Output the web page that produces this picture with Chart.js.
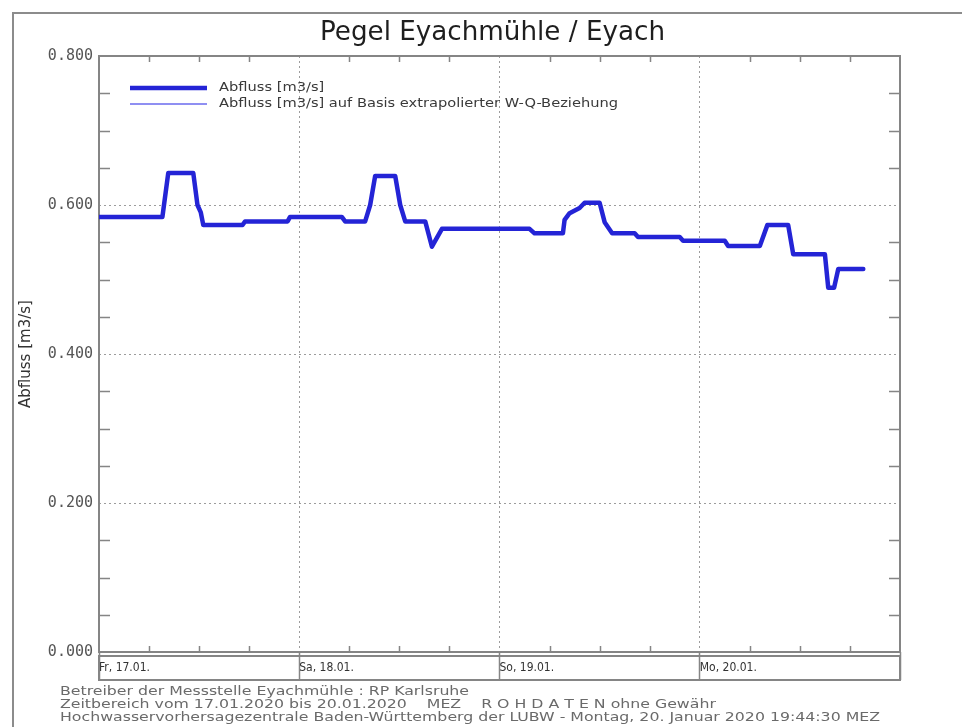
<!DOCTYPE html>
<html>
<head>
<meta charset="utf-8">
<title>Pegel Eyachmühle / Eyach</title>
<script src="https://cdn.jsdelivr.net/npm/chart.js@4.4.1/dist/chart.umd.min.js"></script>
<style>
  html, body { margin: 0; padding: 0; background: #fff; }
  canvas { display: block; }
</style>
</head>
<body>
<canvas id="pegel-chart" width="962" height="727"></canvas>
<script>
// Stunden ab Fr, 17.01.2020 00:00 MEZ
const hours = [0, 7.6, 8.3, 11.3, 11.8, 12.2, 12.5, 17.2, 17.5, 22.6, 22.9, 29.1, 29.5, 31.9,
  32.5, 33.1, 35.5, 36.1, 36.7, 39.1, 39.9, 41.1, 51.6, 52.2, 55.6, 55.8, 56.4, 57.6, 58.2,
  60.0, 60.6, 61.5, 64.2, 64.6, 69.6, 70.0, 75.0, 75.4, 79.2, 80.1, 82.6, 83.2, 87.0, 87.4,
  88.1, 88.6, 91.6];
// Abfluss [m3/s]
const flow = [0.584, 0.584, 0.643, 0.643, 0.600, 0.590, 0.573, 0.573, 0.578, 0.578, 0.584, 0.584,
  0.578, 0.578, 0.600, 0.639, 0.639, 0.600, 0.578, 0.578, 0.544, 0.568, 0.568, 0.562, 0.562,
  0.580, 0.589, 0.596, 0.603, 0.603, 0.577, 0.562, 0.562, 0.557, 0.557, 0.552, 0.552, 0.545,
  0.545, 0.573, 0.573, 0.534, 0.534, 0.489, 0.489, 0.514, 0.514];
const flowExtrapolated = [];

const dayLabels = ["Fr, 17.01.", "Sa, 18.01.", "So, 19.01.", "Mo, 20.01."];
const yTicks = [0, 0.2, 0.4, 0.6, 0.8];
const legendLabels = ["Abfluss [m3/s]", "Abfluss [m3/s] auf Basis extrapolierter W-Q-Beziehung"];
const footerLines = [
  "Betreiber der Messstelle Eyachmühle : RP Karlsruhe",
  "Zeitbereich vom 17.01.2020 bis 20.01.2020    MEZ    R O H D A T E N ohne Gewähr",
  "Hochwasservorhersagezentrale Baden-Württemberg der LUBW - Montag, 20. Januar 2020 19:44:30 MEZ"
];

const lineBlue = "#2424d6";
const lightBlue = "#8f8ff2";
const axisGray = "#858585";
const gridGray = "#9c9c9c";

// draws text stretched horizontally (the original plot font is wide and low)
function wideText(ctx, text, x, y, sx) {
  ctx.save();
  ctx.translate(x, y);
  ctx.scale(sx, 1);
  ctx.fillText(text, 0, 0);
  ctx.restore();
}

// frame, title, legend, minor ticks, label box, footer
const decorations = {
  id: "decorations",
  beforeDraw(chart) {
    const ctx = chart.ctx;
    ctx.save();
    ctx.fillStyle = "#fff";
    ctx.fillRect(0, 0, chart.width, chart.height);
    ctx.strokeStyle = "#8c8c8c";
    ctx.lineWidth = 2;
    ctx.strokeRect(13, 13, chart.width + 20, chart.height + 20);
    ctx.restore();
  },
  beforeDatasetsDraw(chart) {
    const ctx = chart.ctx;
    const a = chart.chartArea;
    const x = chart.scales.x;
    const y = chart.scales.y;
    ctx.save();
    ctx.strokeStyle = axisGray;
    ctx.lineWidth = 2;
    ctx.strokeRect(a.left, a.top, a.right - a.left, a.bottom - a.top);
    // label box under the plot
    ctx.strokeRect(a.left, a.bottom + 4, a.right - a.left, 24);

    ctx.lineWidth = 1.5;
    ctx.beginPath();
    for (let v = 0.05; v < 0.8; v += 0.05) {
      if (Math.abs(v / 0.2 - Math.round(v / 0.2)) < 0.01) continue;
      const py = Math.round(y.getPixelForValue(v)) + 0.5;
      ctx.moveTo(a.left, py); ctx.lineTo(a.left + 11, py);
      ctx.moveTo(a.right, py); ctx.lineTo(a.right - 11, py);
    }
    for (let h = 6; h < 96; h += 6) {
      if (h % 24 === 0) continue;
      const px = Math.round(x.getPixelForValue(h)) + 0.5;
      ctx.moveTo(px, a.top); ctx.lineTo(px, a.top + 6);
      ctx.moveTo(px, a.bottom); ctx.lineTo(px, a.bottom - 6);
    }
    ctx.stroke();
    ctx.restore();
  },
  afterDraw(chart) {
    const ctx = chart.ctx;
    ctx.save();
    ctx.fillStyle = "#1e1e1e";
    ctx.textAlign = "left";
    ctx.textBaseline = "middle";
    ctx.font = "27px 'DejaVu Sans Condensed', 'DejaVu Sans', sans-serif";
    const title = "Pegel Eyachmühle / Eyach";
    const tsx = 345 / ctx.measureText(title).width;
    wideText(ctx, title, 320, 33, tsx);

    // legend
    const rows = [
      { y: 88, color: lineBlue, width: 4.5 },
      { y: 104, color: lightBlue, width: 2 }
    ];
    ctx.font = "12px 'DejaVu Sans Condensed', 'DejaVu Sans', sans-serif";
    const lsx = 399 / ctx.measureText(legendLabels[1]).width;
    rows.forEach((r, i) => {
      ctx.strokeStyle = r.color;
      ctx.lineWidth = r.width;
      ctx.beginPath();
      ctx.moveTo(130, r.y);
      ctx.lineTo(207, r.y);
      ctx.stroke();
      ctx.fillStyle = "#3a3a3a";
      wideText(ctx, legendLabels[i], 219, r.y, lsx);
    });

    // footer
    ctx.fillStyle = "#6a6a6a";
    ctx.font = "13px 'DejaVu Sans Condensed', 'DejaVu Sans', sans-serif";
    const fsx = 820 / ctx.measureText(footerLines[2]).width;
    footerLines.forEach((t, i) => wideText(ctx, t, 60, 692 + i * 13, fsx));
    ctx.restore();
  }
};

const ctx = document.getElementById("pegel-chart").getContext("2d");
const chart = new Chart(ctx, {
  type: "line",
  data: {
    datasets: [
      {
        label: legendLabels[0],
        data: hours.map((h, i) => ({ x: h, y: flow[i] })),
        borderColor: lineBlue,
        borderWidth: 4.5,
        borderJoinStyle: "round",
        borderCapStyle: "round",
        pointRadius: 0,
        tension: 0,
        fill: false
      },
      {
        label: legendLabels[1],
        data: flowExtrapolated,
        borderColor: lightBlue,
        borderWidth: 2,
        pointRadius: 0
      }
    ]
  },
  options: {
    responsive: false,
    devicePixelRatio: 1,
    animation: false,
    events: [],
    layout: { padding: { left: 0, top: 56, right: 62, bottom: 0 } },
    plugins: {
      legend: { display: false },
      title: { display: false },
      tooltip: { enabled: false }
    },
    scales: {
      x: {
        type: "linear",
        min: 0,
        max: 96,
        afterFit: (s) => { s.height = 75; },
        afterBuildTicks: (s) => { s.ticks = [0, 24, 48, 72, 96].map((v) => ({ value: v })); },
        ticks: {
          align: "start",
          padding: -19,
          color: "#333",
          font: { family: "'DejaVu Sans Condensed', sans-serif", size: 12 },
          callback: (v) => dayLabels[v / 24] || ""
        },
        grid: {
          color: (c) => (c.tick && c.tick.value > 0 && c.tick.value < 96 ? gridGray : "rgba(0,0,0,0)"),
          lineWidth: 1,
          drawTicks: true,
          tickLength: 28,
          tickColor: axisGray,
          tickWidth: 1.5
        },
        border: { display: false, dash: [2, 3] }
      },
      y: {
        min: 0,
        max: 0.8,
        afterFit: (s) => { s.width = 99; },
        afterBuildTicks: (s) => { s.ticks = yTicks.map((v) => ({ value: v })); },
        ticks: {
          padding: 6,
          color: "#555",
          font: { family: "'DejaVu Sans Mono', monospace", size: 15 },
          callback: (v) => v.toFixed(3)
        },
        grid: {
          color: (c) => (c.tick && c.tick.value > 0 && c.tick.value < 0.8 ? gridGray : "rgba(0,0,0,0)"),
          lineWidth: 1,
          drawTicks: false
        },
        border: { display: false, dash: [2, 3] },
        title: {
          display: true,
          text: "Abfluss [m3/s]",
          color: "#333",
          font: { family: "'DejaVu Sans', sans-serif", size: 15 },
          padding: { top: 17, bottom: 0 }
        }
      }
    }
  },
  plugins: [decorations]
});
</script>
</body>
</html>
